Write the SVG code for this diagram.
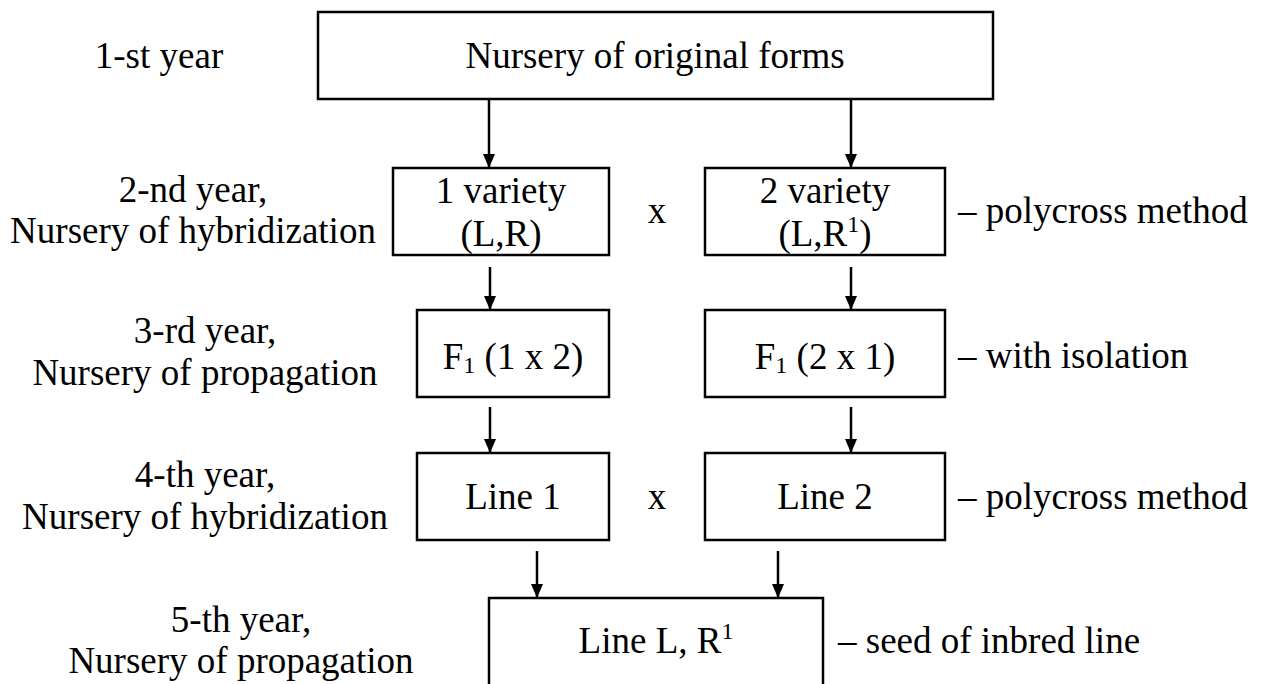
<svg xmlns="http://www.w3.org/2000/svg" width="1263" height="684" viewBox="0 0 1263 684">
<defs>
<marker id="ah" markerWidth="14" markerHeight="12" refX="14" refY="6" orient="auto" markerUnits="userSpaceOnUse" viewBox="0 0 14 12">
<path d="M0,0 L14,6 L0,12 Z" fill="#000"/>
</marker>
<style>
text{font-family:"Liberation Serif","Times New Roman",serif;font-size:37px;fill:#000}
.c{text-anchor:middle}
.box{fill:#fff;stroke:#000;stroke-width:2.5}
.ar{stroke:#000;stroke-width:2.5;fill:none}
.sub{font-size:24px}
</style>
</defs>
<rect width="1263" height="684" fill="#fff"/>
<g id="labels" font-family="Liberation Serif, serif">
<text class="c" x="159" y="68">1-st year</text>
<text class="c" x="193" y="202">2-nd year,</text>
<text class="c" x="193" y="243">Nursery of hybridization</text>
<text class="c" x="205" y="343">3-rd year,</text>
<text class="c" x="205" y="385">Nursery of propagation</text>
<text class="c" x="205" y="487">4-th year,</text>
<text class="c" x="205" y="529">Nursery of hybridization</text>
<text class="c" x="241" y="632">5-th year,</text>
<text class="c" x="241" y="673">Nursery of propagation</text>
<text x="958" y="223">– polycross method</text>
<text x="958" y="368">– with isolation</text>
<text x="958" y="509">– polycross method</text>
<text x="838" y="653">– seed of inbred line</text>
<text class="c" x="657" y="223">x</text>
<text class="c" x="657" y="509">x</text>
</g>
<g id="n-original">
<rect class="box" x="318" y="12" width="675" height="87"/>
<text class="c" x="655" y="68">Nursery of original forms</text>
</g>
<g id="n-var1">
<rect class="box" x="393" y="168" width="216" height="87"/>
<text class="c" x="501" y="203">1 variety</text>
<text class="c" x="501" y="246">(L,R)</text>
</g>
<g id="n-var2">
<rect class="box" x="705" y="168" width="240" height="87"/>
<text class="c" x="825" y="203">2 variety</text>
<text class="c" x="825" y="246">(L,R<tspan class="sub" dy="-14">1</tspan><tspan dy="14">)</tspan></text>
</g>
<g id="n-f1a">
<rect class="box" x="417" y="310" width="192" height="87"/>
<text class="c" x="513" y="369">F<tspan class="sub" dy="4">1</tspan><tspan dy="-4"> (1 x 2)</tspan></text>
</g>
<g id="n-f1b">
<rect class="box" x="705" y="310" width="240" height="87"/>
<text class="c" x="825" y="369">F<tspan class="sub" dy="4">1</tspan><tspan dy="-4"> (2 x 1)</tspan></text>
</g>
<g id="n-line1">
<rect class="box" x="417" y="453" width="192" height="87"/>
<text class="c" x="513" y="509">Line 1</text>
</g>
<g id="n-line2">
<rect class="box" x="705" y="453" width="240" height="87"/>
<text class="c" x="825" y="509">Line 2</text>
</g>
<g id="n-final">
<path class="box" d="M489,690 L489,598 L823,598 L823,690"/>
<text class="c" x="656" y="653">Line L, R<tspan class="sub" dy="-14">1</tspan></text>
</g>
<g id="connectors">
<line class="ar" x1="489" y1="100" x2="489" y2="168" marker-end="url(#ah)"/>
<line class="ar" x1="851" y1="100" x2="851" y2="168" marker-end="url(#ah)"/>
<line class="ar" x1="490" y1="267" x2="490" y2="310" marker-end="url(#ah)"/>
<line class="ar" x1="851" y1="267" x2="851" y2="310" marker-end="url(#ah)"/>
<line class="ar" x1="490" y1="407" x2="490" y2="453" marker-end="url(#ah)"/>
<line class="ar" x1="851" y1="407" x2="851" y2="453" marker-end="url(#ah)"/>
<line class="ar" x1="537" y1="551" x2="537" y2="598" marker-end="url(#ah)"/>
<line class="ar" x1="778" y1="551" x2="778" y2="598" marker-end="url(#ah)"/>
</g>
</svg>
